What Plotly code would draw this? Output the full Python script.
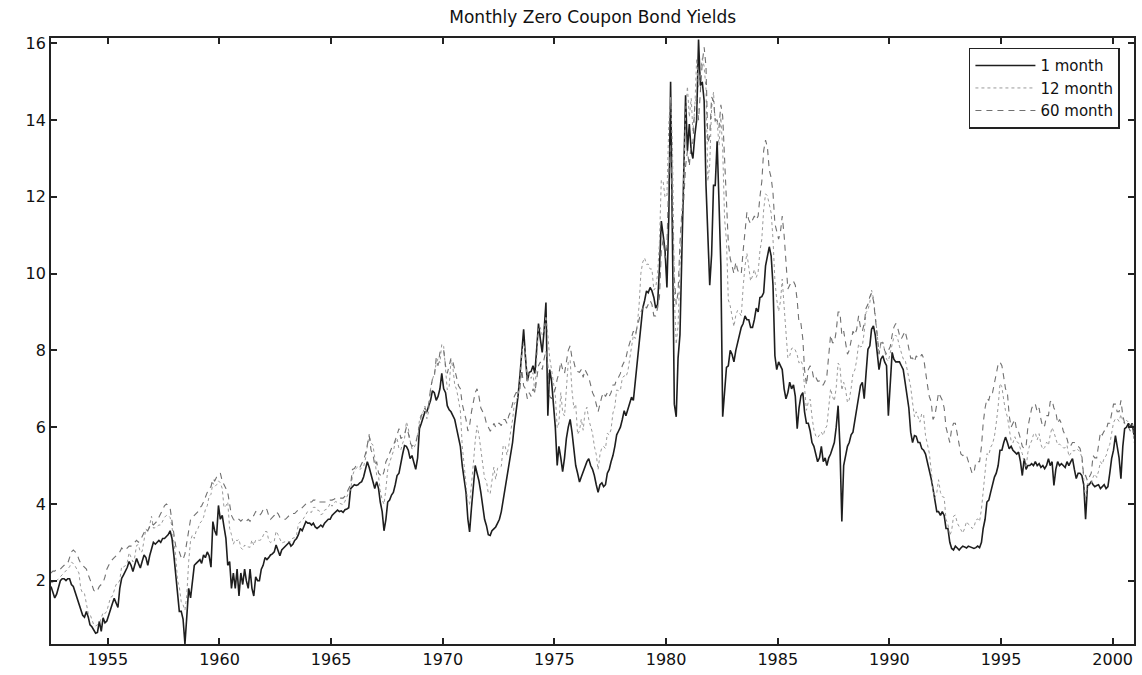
import pandas as pd
import plotly.graph_objects as go

# Monthly observations, June 1952 through December 2000 (percent per year)
one_month = [
    1.85, 1.70, 1.55, 1.65, 1.80, 2.00, 2.05,                              # 1952 Jun-Dec
    2.05, 2.00, 2.05, 2.05, 1.90, 1.85, 1.70, 1.55, 1.40, 1.28, 1.10, 1.05,  # 1953
    1.20, 1.05, 0.85, 0.80, 0.70, 0.63, 0.65, 0.94, 0.68, 1.03, 0.90, 0.95,  # 1954
    1.10, 1.28, 1.40, 1.54, 1.40, 1.30, 1.80, 2.06, 2.15, 2.24, 2.35, 2.50,  # 1955
    2.40, 2.24, 2.40, 2.58, 2.45, 2.33, 2.50, 2.67, 2.60, 2.40, 2.65, 2.84,  # 1956
    3.00, 2.95, 3.00, 3.05, 3.00, 3.10, 3.10, 3.15, 3.20, 3.30, 3.10, 2.67,  # 1957
    2.20, 1.70, 1.20, 1.20, 1.00, 0.35, 1.10, 1.80, 1.55, 2.06, 2.40, 2.45,  # 1958
    2.50, 2.55, 2.45, 2.67, 2.60, 2.75, 2.65, 2.35, 3.54, 3.30, 3.18, 3.96,  # 1959
    3.60, 3.70, 3.40, 3.10, 2.40, 2.50, 1.80, 2.20, 1.80, 2.30, 1.60, 2.20,  # 1960
    1.90, 2.30, 2.00, 1.80, 2.30, 1.80, 1.60, 2.10, 2.00, 2.00, 2.30, 2.40,  # 1961
    2.60, 2.55, 2.60, 2.67, 2.70, 2.75, 2.93, 2.80, 2.65, 2.80, 2.85, 2.90,  # 1962
    2.95, 3.00, 2.90, 2.95, 3.05, 3.10, 3.20, 3.36, 3.30, 3.45, 3.54, 3.50,  # 1963
    3.50, 3.45, 3.50, 3.40, 3.36, 3.40, 3.45, 3.40, 3.50, 3.55, 3.60, 3.60,  # 1964
    3.70, 3.75, 3.80, 3.84, 3.80, 3.82, 3.78, 3.85, 3.87, 3.90, 4.40, 4.45,  # 1965
    4.50, 4.48, 4.50, 4.55, 4.58, 4.70, 4.92, 5.10, 4.95, 4.74, 4.60, 4.40,  # 1966
    4.58, 4.40, 4.05, 3.80, 3.30, 3.60, 4.05, 4.10, 4.23, 4.30, 4.50, 4.74,  # 1967
    4.80, 5.10, 5.30, 5.52, 5.50, 5.40, 5.18, 5.26, 5.10, 4.90, 5.20, 5.96,  # 1968
    6.10, 6.30, 6.40, 6.40, 6.56, 6.70, 6.95, 6.90, 6.70, 6.80, 7.00, 7.40,  # 1969
    7.00, 6.90, 6.56, 6.45, 6.40, 6.30, 6.20, 5.96, 5.70, 5.50, 5.00, 4.60,  # 1970
    4.30, 3.60, 3.27, 3.90, 4.40, 5.00, 4.80, 4.60, 4.30, 4.00, 3.60, 3.44,  # 1971
    3.20, 3.18, 3.30, 3.35, 3.40, 3.50, 3.60, 3.80, 4.10, 4.40, 4.70, 5.00,  # 1972
    5.30, 5.60, 6.04, 6.40, 6.80, 7.34, 8.00, 8.55, 7.80, 7.20, 7.43, 7.45,  # 1973
    7.60, 7.40, 8.00, 8.70, 8.30, 7.95, 8.50, 9.25, 6.30, 7.50, 7.20, 6.70,  # 1974
    6.00, 5.00, 5.50, 5.20, 4.84, 5.20, 5.70, 6.00, 6.20, 5.87, 5.40, 5.00,  # 1975
    4.80, 4.57, 4.70, 4.84, 5.00, 5.10, 5.18, 5.00, 4.90, 4.74, 4.50, 4.30,  # 1976
    4.50, 4.55, 4.45, 4.50, 4.80, 4.90, 5.10, 5.26, 5.50, 5.80, 5.90, 6.00,  # 1977
    6.20, 6.43, 6.30, 6.45, 6.60, 6.78, 6.70, 7.20, 7.70, 8.00, 8.68, 9.10,  # 1978
    9.30, 9.55, 9.50, 9.64, 9.55, 9.38, 9.10, 9.20, 10.16, 11.37, 11.00, 10.60,  # 1979
    9.64, 11.50, 15.00, 11.00, 6.60, 6.27, 7.80, 8.40, 10.60, 12.00, 14.65, 13.20,  # 1980
    13.90, 13.20, 13.00, 13.60, 14.00, 16.10, 14.90, 15.00, 14.50, 12.30, 11.00, 9.70,  # 1981
    10.50, 12.30, 12.30, 13.45, 11.90, 10.20, 6.27, 7.00, 7.56, 7.60, 8.00, 7.90,  # 1982
    7.70, 8.00, 8.20, 8.40, 8.60, 8.70, 8.90, 8.80, 8.80, 8.60, 8.60, 8.80,  # 1983
    9.10, 9.00, 9.38, 9.40, 9.50, 10.20, 10.50, 10.70, 10.46, 9.70, 7.86, 7.50,  # 1984
    7.70, 7.60, 7.50, 7.00, 6.74, 6.90, 7.17, 7.00, 7.10, 6.80, 5.96, 6.50,  # 1985
    6.82, 6.90, 6.40, 6.10, 6.10, 5.90, 5.60, 5.50, 5.26, 5.10, 5.20, 5.50,  # 1986
    5.10, 5.20, 5.00, 5.20, 5.30, 5.44, 5.60, 6.00, 6.56, 5.50, 3.54, 5.00,  # 1987
    5.27, 5.50, 5.60, 5.80, 5.87, 6.20, 6.48, 6.80, 7.08, 7.17, 6.74, 7.40,  # 1988
    8.03, 8.12, 8.55, 8.64, 8.40, 7.95, 7.50, 7.77, 7.86, 7.70, 7.60, 6.30,  # 1989
    7.00, 7.95, 7.77, 7.70, 7.70, 7.70, 7.60, 7.50, 7.17, 6.82, 6.50, 5.87,  # 1990
    5.60, 5.78, 5.76, 5.60, 5.60, 5.44, 5.40, 5.30, 5.10, 4.90, 4.66, 4.40,  # 1991
    4.05, 3.80, 3.80, 3.70, 3.80, 3.70, 3.36, 3.36, 3.00, 2.84, 2.80, 2.90,  # 1992
    2.85, 2.80, 2.85, 2.90, 2.88, 2.85, 2.90, 2.88, 2.86, 2.84, 2.86, 2.90,  # 1993
    2.86, 3.00, 3.36, 3.60, 4.05, 4.10, 4.30, 4.50, 4.70, 4.80, 5.00, 5.40,  # 1994
    5.40, 5.60, 5.74, 5.60, 5.44, 5.50, 5.40, 5.35, 5.30, 5.35, 5.10, 4.74,  # 1995
    5.18, 4.90, 5.00, 5.00, 5.05, 5.00, 5.10, 5.00, 5.05, 4.95, 5.00, 4.92,  # 1996
    5.00, 5.18, 5.00, 5.10, 4.48, 4.90, 5.10, 5.00, 5.05, 5.00, 4.95, 5.10,  # 1997
    5.00, 5.10, 5.18, 4.90, 4.66, 4.80, 4.80, 4.74, 4.50, 3.60, 4.48, 4.50,  # 1998
    4.58, 4.50, 4.45, 4.48, 4.50, 4.40, 4.45, 4.50, 4.40, 4.45, 4.80, 5.18,  # 1999
    5.40, 5.78, 5.50, 5.20, 4.66, 5.50, 5.96, 6.00, 6.10, 6.00, 6.10, 5.80,  # 2000
]

twelve_month = [
    1.95, 1.95, 2.00, 2.00, 2.05, 2.10, 2.15,                              # 1952 Jun-Dec
    2.20, 2.25, 2.30, 2.36, 2.48, 2.45, 2.38, 2.28, 2.20, 1.79, 1.67, 1.66,  # 1953
    1.41, 1.14, 1.13, 0.96, 0.85, 0.82, 0.84, 0.88, 1.03, 1.17, 1.14, 1.21,  # 1954
    1.39, 1.57, 1.59, 1.75, 1.90, 1.91, 2.02, 2.37, 2.36, 2.39, 2.48, 2.73,  # 1955
    2.58, 2.49, 2.61, 2.92, 2.94, 2.74, 2.76, 3.10, 3.35, 3.28, 3.44, 3.68,  # 1956
    3.37, 3.38, 3.42, 3.45, 3.45, 3.55, 3.65, 3.70, 3.70, 3.65, 3.40, 3.00,  # 1957
    2.65, 1.99, 1.84, 1.45, 1.37, 1.23, 1.61, 2.50, 3.05, 3.19, 3.10, 3.29,  # 1958
    3.36, 3.50, 3.55, 3.65, 3.85, 3.95, 4.20, 4.25, 4.55, 4.45, 4.50, 4.60,  # 1959
    4.55, 4.40, 3.90, 3.95, 4.05, 3.36, 3.20, 2.95, 3.07, 3.04, 3.08, 2.86,  # 1960
    2.81, 2.93, 2.88, 2.88, 2.87, 3.06, 2.92, 3.06, 3.06, 3.05, 3.07, 3.18,  # 1961
    3.28, 3.28, 3.06, 2.99, 3.03, 3.03, 3.29, 3.20, 3.06, 2.98, 3.00, 3.01,  # 1962
    3.04, 3.01, 3.03, 3.11, 3.12, 3.20, 3.48, 3.53, 3.57, 3.64, 3.74, 3.81,  # 1963
    3.79, 3.78, 3.91, 3.91, 3.84, 3.83, 3.72, 3.74, 3.84, 3.86, 3.91, 4.02,  # 1964
    3.94, 4.03, 4.06, 4.04, 4.03, 3.99, 3.98, 4.07, 4.20, 4.30, 4.37, 4.72,  # 1965
    4.88, 4.94, 4.97, 4.90, 4.93, 4.97, 5.17, 5.54, 5.82, 5.58, 5.54, 5.20,  # 1966
    4.75, 4.71, 4.35, 4.11, 3.99, 4.39, 4.89, 5.08, 5.24, 5.37, 5.61, 5.71,  # 1967
    5.43, 5.41, 5.58, 5.71, 6.14, 5.98, 5.65, 5.43, 5.45, 5.57, 5.75, 6.19,  # 1968
    6.34, 6.40, 6.55, 6.22, 6.41, 7.00, 7.24, 7.39, 7.66, 7.79, 7.67, 8.17,  # 1969
    8.10, 7.59, 6.97, 7.06, 7.75, 7.55, 7.10, 6.98, 6.73, 6.43, 5.51, 5.00,  # 1970
    4.64, 4.01, 3.98, 4.64, 5.04, 5.64, 6.04, 5.80, 5.41, 4.91, 4.67, 4.60,  # 1971
    4.28, 4.27, 4.67, 4.96, 4.64, 4.93, 4.96, 4.98, 5.52, 5.52, 5.27, 5.52,  # 1972
    5.89, 6.19, 6.60, 6.70, 6.80, 7.20, 7.90, 8.20, 7.90, 7.20, 7.40, 7.27,  # 1973
    7.42, 6.88, 7.76, 8.62, 8.60, 8.40, 8.50, 8.90, 8.40, 7.80, 7.50, 7.20,  # 1974
    6.83, 5.98, 6.11, 6.90, 6.39, 6.29, 7.11, 7.70, 7.75, 6.95, 6.49, 6.60,  # 1975
    5.81, 5.91, 6.21, 5.92, 6.40, 6.52, 6.20, 6.00, 5.84, 5.50, 5.29, 4.89,  # 1976
    5.29, 5.47, 5.50, 5.44, 5.84, 5.80, 5.94, 6.37, 6.53, 6.97, 6.95, 6.96,  # 1977
    7.28, 7.34, 7.31, 7.45, 7.82, 8.09, 8.39, 8.31, 8.64, 9.14, 10.01, 10.30,  # 1978
    10.41, 10.24, 10.25, 10.12, 10.12, 9.57, 9.64, 9.98, 10.84, 12.44, 12.39, 11.98,  # 1979
    12.06, 13.92, 14.60, 13.30, 9.39, 8.16, 8.65, 10.24, 11.52, 12.49, 14.15, 14.88,  # 1980
    14.08, 14.57, 13.71, 14.32, 15.60, 14.86, 15.30, 15.60, 15.40, 14.80, 12.41, 12.85,  # 1981
    14.32, 14.73, 13.95, 13.98, 13.34, 14.07, 13.24, 11.43, 10.85, 9.32, 9.16, 8.91,  # 1982
    8.62, 8.92, 9.04, 8.98, 8.90, 9.66, 10.20, 10.53, 10.16, 9.81, 9.94, 10.11,  # 1983
    9.90, 10.04, 10.59, 10.90, 11.66, 12.08, 12.03, 11.82, 11.58, 10.90, 9.82, 9.33,  # 1984
    9.02, 9.29, 9.86, 9.14, 8.46, 7.80, 7.86, 8.05, 8.07, 8.01, 7.88, 7.67,  # 1985
    7.73, 7.61, 7.03, 6.44, 6.65, 6.73, 6.27, 5.93, 5.77, 5.72, 5.80, 5.87,  # 1986
    5.78, 5.96, 6.03, 6.50, 7.00, 6.80, 6.68, 7.03, 7.67, 7.59, 6.96, 7.17,  # 1987
    6.99, 6.64, 6.71, 7.01, 7.40, 7.49, 7.75, 8.17, 8.09, 8.11, 8.48, 8.99,  # 1988
    9.05, 9.25, 9.57, 9.36, 8.98, 8.44, 7.89, 8.18, 8.22, 7.99, 7.77, 7.72,  # 1989
    7.92, 8.11, 8.35, 8.40, 8.32, 8.10, 7.94, 7.78, 7.76, 7.55, 7.31, 7.05,  # 1990
    6.64, 6.27, 6.40, 6.24, 6.13, 6.36, 6.31, 5.78, 5.57, 5.33, 4.89, 4.38,  # 1991
    4.15, 4.29, 4.63, 4.30, 4.19, 4.17, 3.60, 3.47, 3.18, 3.30, 3.68, 3.71,  # 1992
    3.50, 3.39, 3.33, 3.24, 3.36, 3.54, 3.47, 3.44, 3.36, 3.39, 3.58, 3.61,  # 1993
    3.54, 3.87, 4.32, 4.82, 5.31, 5.27, 5.48, 5.56, 5.76, 6.11, 6.54, 7.14,  # 1994
    7.05, 6.70, 6.43, 6.27, 6.00, 5.64, 5.59, 5.75, 5.62, 5.59, 5.43, 5.31,  # 1995
    5.09, 4.94, 5.34, 5.54, 5.64, 5.81, 5.85, 5.67, 5.83, 5.55, 5.42, 5.47,  # 1996
    5.61, 5.53, 5.80, 5.99, 5.87, 5.69, 5.54, 5.56, 5.52, 5.46, 5.46, 5.53,  # 1997
    5.24, 5.31, 5.39, 5.38, 5.44, 5.41, 5.36, 5.21, 4.71, 4.12, 4.53, 4.52,  # 1998
    4.51, 4.70, 4.78, 4.69, 4.85, 5.10, 5.03, 5.20, 5.25, 5.43, 5.55, 5.84,  # 1999
    6.12, 6.22, 6.22, 6.15, 6.33, 6.17, 6.08, 6.18, 6.13, 6.01, 6.09, 5.60,  # 2000
]

sixty_month = [
    2.20, 2.25, 2.25, 2.30, 2.30, 2.30, 2.35,                              # 1952 Jun-Dec
    2.40, 2.40, 2.45, 2.60, 2.75, 2.80, 2.75, 2.70, 2.55, 2.45, 2.40, 2.35,  # 1953
    2.30, 2.15, 2.05, 1.90, 1.75, 1.70, 1.75, 1.85, 1.90, 1.95, 2.10, 2.30,  # 1954
    2.40, 2.50, 2.55, 2.60, 2.65, 2.70, 2.75, 2.85, 2.80, 2.80, 2.85, 2.90,  # 1955
    2.90, 2.95, 3.00, 3.05, 3.00, 3.05, 3.15, 3.25, 3.35, 3.30, 3.40, 3.50,  # 1956
    3.45, 3.50, 3.55, 3.65, 3.75, 3.85, 3.95, 4.00, 3.95, 3.90, 3.55, 3.18,  # 1957
    2.90, 2.80, 2.75, 2.60, 2.55, 2.70, 3.00, 3.40, 3.60, 3.65, 3.70, 3.75,  # 1958
    3.80, 3.90, 3.95, 4.05, 4.20, 4.30, 4.40, 4.45, 4.66, 4.60, 4.70, 4.74,  # 1959
    4.80, 4.60, 4.48, 4.40, 4.30, 3.95, 3.70, 3.60, 3.55, 3.60, 3.60, 3.55,  # 1960
    3.60, 3.55, 3.55, 3.60, 3.55, 3.65, 3.70, 3.80, 3.75, 3.70, 3.75, 3.85,  # 1961
    3.90, 3.85, 3.70, 3.60, 3.65, 3.70, 3.80, 3.75, 3.65, 3.60, 3.60, 3.60,  # 1962
    3.65, 3.70, 3.70, 3.75, 3.75, 3.80, 3.85, 3.85, 3.90, 3.95, 4.00, 4.05,  # 1963
    4.05, 4.05, 4.10, 4.10, 4.05, 4.05, 4.05, 4.05, 4.05, 4.05, 4.05, 4.10,  # 1964
    4.10, 4.12, 4.15, 4.15, 4.15, 4.15, 4.15, 4.20, 4.30, 4.40, 4.50, 4.90,  # 1965
    4.92, 5.00, 5.00, 4.95, 5.05, 5.15, 5.30, 5.52, 5.78, 5.40, 5.30, 5.00,  # 1966
    5.10, 4.80, 4.75, 4.70, 4.84, 5.10, 5.20, 5.35, 5.45, 5.52, 5.70, 5.80,  # 1967
    5.96, 5.70, 5.75, 5.80, 6.00, 5.85, 5.60, 5.50, 5.55, 5.60, 5.80, 6.10,  # 1968
    6.30, 6.40, 6.50, 6.40, 6.60, 7.00, 7.25, 7.30, 7.80, 7.60, 7.95, 8.03,  # 1969
    8.00, 7.60, 7.40, 7.60, 7.80, 7.70, 7.50, 7.30, 7.08, 7.00, 6.60, 6.40,  # 1970
    6.20, 5.90, 6.04, 6.40, 6.70, 6.90, 7.00, 6.80, 6.50, 6.40, 6.30, 6.10,  # 1971
    6.00, 5.90, 5.96, 6.10, 6.00, 6.10, 6.10, 6.04, 6.20, 6.20, 6.10, 6.30,  # 1972
    6.40, 6.60, 6.80, 6.90, 6.90, 7.00, 7.50, 7.08, 7.00, 6.74, 6.90, 6.80,  # 1973
    7.00, 6.90, 7.20, 7.60, 7.70, 7.50, 7.77, 8.00, 7.60, 6.80, 6.74, 6.90,  # 1974
    7.00, 7.25, 7.40, 7.70, 7.50, 7.40, 7.70, 8.00, 8.12, 7.80, 7.70, 7.50,  # 1975
    7.45, 7.43, 7.50, 7.30, 7.50, 7.40, 7.30, 7.10, 6.90, 6.80, 6.60, 6.40,  # 1976
    6.60, 6.80, 6.90, 6.80, 6.90, 6.80, 6.90, 7.10, 7.10, 7.25, 7.30, 7.40,  # 1977
    7.60, 7.70, 7.80, 8.03, 8.20, 8.40, 8.50, 8.40, 8.60, 8.80, 9.00, 9.10,  # 1978
    9.20, 9.10, 9.20, 9.30, 9.20, 8.90, 8.90, 9.10, 9.40, 10.60, 10.90, 10.40,  # 1979
    10.70, 12.60, 13.40, 11.80, 9.90, 9.20, 9.50, 10.80, 11.60, 11.90, 12.80, 13.20,  # 1980
    12.80, 13.40, 13.40, 14.40, 14.60, 14.00, 14.80, 15.50, 15.90, 15.40, 13.40, 13.60,  # 1981
    14.60, 14.50, 14.00, 14.00, 13.80, 14.40, 14.10, 13.00, 12.20, 10.80, 10.40, 10.20,  # 1982
    10.00, 10.30, 10.10, 10.00, 10.00, 10.60, 11.20, 11.60, 11.40, 11.30, 11.40, 11.50,  # 1983
    11.40, 11.50, 12.00, 12.40, 13.20, 13.48, 13.30, 12.70, 12.50, 12.10, 11.30, 11.10,  # 1984
    10.90, 11.10, 11.50, 11.00, 10.30, 9.60, 9.70, 9.80, 9.80, 9.70, 9.30, 8.70,  # 1985
    8.70, 8.30, 7.50, 7.10, 7.50, 7.60, 7.50, 7.25, 7.30, 7.20, 7.20, 7.10,  # 1986
    7.10, 7.20, 7.34, 7.80, 8.40, 8.20, 8.20, 8.50, 9.00, 9.00, 8.40, 8.50,  # 1987
    8.20, 7.90, 8.00, 8.30, 8.50, 8.40, 8.55, 8.90, 8.60, 8.50, 8.70, 9.10,  # 1988
    9.20, 9.40, 9.50, 9.30, 8.90, 8.40, 7.90, 8.20, 8.20, 8.00, 7.90, 8.00,  # 1989
    8.10, 8.40, 8.60, 8.70, 8.60, 8.40, 8.30, 8.40, 8.50, 8.30, 8.00, 7.80,  # 1990
    7.80, 7.70, 7.86, 7.80, 7.80, 7.90, 7.80, 7.40, 7.10, 6.80, 6.66, 6.20,  # 1991
    6.30, 6.60, 6.90, 6.80, 6.70, 6.50, 6.00, 5.80, 5.60, 5.96, 6.10, 6.10,  # 1992
    5.80, 5.52, 5.30, 5.26, 5.30, 5.26, 5.10, 5.00, 4.80, 4.80, 5.10, 5.10,  # 1993
    5.10, 5.50, 6.10, 6.50, 6.74, 6.70, 6.90, 6.90, 7.17, 7.40, 7.64, 7.70,  # 1994
    7.60, 7.30, 7.00, 6.90, 6.30, 6.00, 6.10, 6.20, 5.90, 5.87, 5.70, 5.50,  # 1995
    5.44, 5.50, 6.00, 6.30, 6.48, 6.60, 6.60, 6.40, 6.50, 6.20, 6.00, 6.04,  # 1996
    6.30, 6.30, 6.66, 6.70, 6.50, 6.40, 6.10, 6.20, 6.10, 5.90, 5.80, 5.70,  # 1997
    5.50, 5.52, 5.60, 5.60, 5.55, 5.50, 5.45, 5.26, 4.70, 4.74, 4.60, 4.70,  # 1998
    4.80, 5.26, 5.20, 5.20, 5.50, 5.87, 5.80, 5.90, 5.90, 6.10, 6.10, 6.40,  # 1999
    6.60, 6.60, 6.40, 6.40, 6.70, 6.30, 6.10, 6.10, 6.00, 5.90, 5.80, 5.80,  # 2000
]

series_names = ["1 month", "12 month", "60 month"]
year_ticks = [1955, 1960, 1965, 1970, 1975, 1980, 1985, 1990, 1995, 2000]
yield_ticks = [2, 4, 6, 8, 10, 12, 14, 16]

# mid-month dates for each observation
dates = pd.date_range("1952-06-01", "2000-12-01", freq="MS") + pd.Timedelta(days=14)

FONT = "DejaVu Sans"

fig = go.Figure()
fig.add_trace(go.Scatter(
    x=dates, y=one_month, name=series_names[0], mode="lines",
    line=dict(color="#1e1e1e", width=1.6),
))
fig.add_trace(go.Scatter(
    x=dates, y=twelve_month, name=series_names[1], mode="lines",
    line=dict(color="#9a9a9a", width=1, dash="dot"),
))
fig.add_trace(go.Scatter(
    x=dates, y=sixty_month, name=series_names[2], mode="lines",
    line=dict(color="#707070", width=1.1, dash="6px,5px"),
))

axis_common = dict(
    showline=True, linecolor="#222222", linewidth=1.8, mirror="allticks",
    ticks="inside", ticklen=6, tickwidth=1.5, tickcolor="#222222",
    showgrid=False, zeroline=False,
    tickfont=dict(family=FONT, size=16, color="#111111"),
)

fig.update_layout(
    width=1142, height=675,
    margin=dict(l=51, r=6, t=38, b=29),
    paper_bgcolor="white", plot_bgcolor="white",
    title=dict(
        text="Monthly Zero Coupon Bond Yields",
        x=0.519, xanchor="center", y=1 - 17 / 675, yanchor="middle",
        yref="container",
        font=dict(family=FONT, size=17, color="#111111"),
    ),
    xaxis=dict(
        **axis_common,
        type="date",
        range=[dates[0], dates[-1]],
        tickvals=[pd.Timestamp(f"{y}-01-01") for y in year_ticks],
        ticktext=[str(y) for y in year_ticks],
    ),
    yaxis=dict(
        **axis_common,
        range=[0.35, 16.14],
        tickvals=yield_ticks,
        ticktext=[str(v) for v in yield_ticks],
    ),
    legend=dict(
        x=0.987, y=0.984, xanchor="right", yanchor="top",
        bgcolor="white", bordercolor="#222222", borderwidth=1.5,
        font=dict(family=FONT, size=15, color="#111111"),
        tracegroupgap=0, itemwidth=60,
    ),
    showlegend=True,
)

fig.write_html("out.html")
